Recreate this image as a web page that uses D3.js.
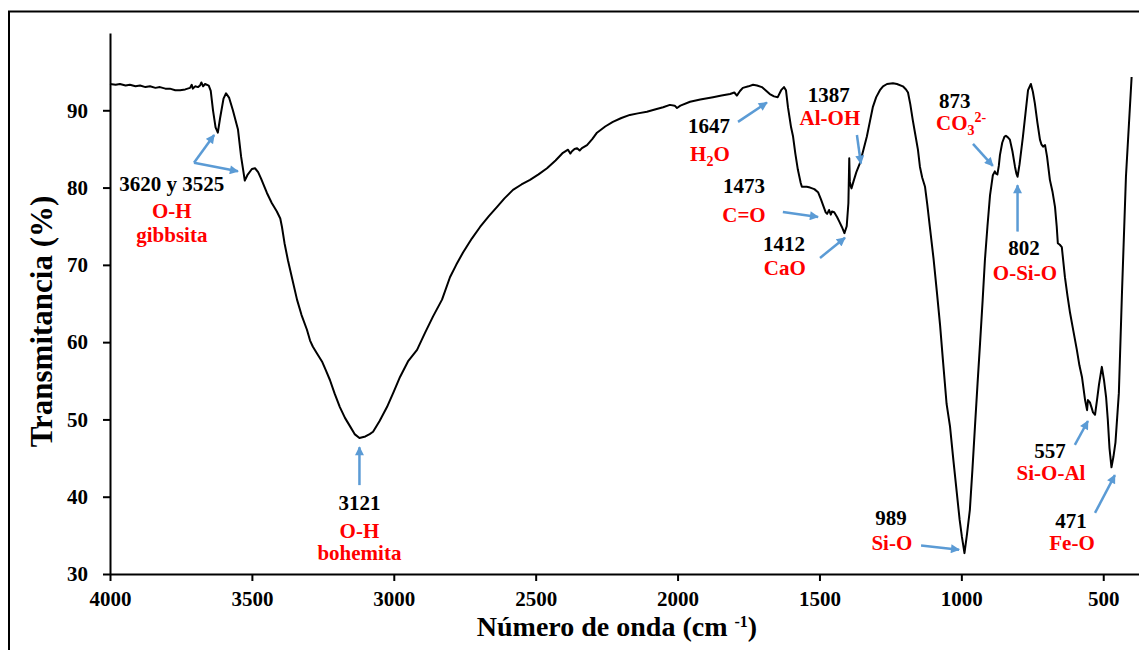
<!DOCTYPE html>
<html>
<head>
<meta charset="utf-8">
<script src="https://cdn.jsdelivr.net/npm/d3@7"></script>
<style>
  html, body { margin: 0; padding: 0; background: #fff; }
  svg { display: block; }
</style>
</head>
<body>
<svg id="chart" width="1139" height="650"></svg>
<script>
// FTIR spectrum: wavenumber (cm-1) and transmittance (%)
const wavenumber = [
  4000, 3980, 3965, 3945, 3930, 3910, 3894, 3875, 3859, 3840, 3824, 3805, 3789, 3770, 3753, 3735,
  3718, 3712, 3708, 3700, 3690, 3683, 3678, 3672, 3665, 3652, 3645, 3637, 3628, 3620, 3612, 3600,
  3591, 3580, 3567, 3549, 3538, 3525, 3516, 3500, 3489, 3478, 3468, 3447, 3430, 3412, 3400, 3394,
  3385, 3373, 3358, 3341, 3325, 3306, 3295, 3285, 3270, 3253, 3240, 3225, 3208, 3190, 3172, 3154,
  3138, 3121, 3100, 3085, 3073, 3050, 3024, 3000, 2978, 2950, 2918, 2890, 2862, 2830, 2802, 2780,
  2756, 2725, 2696, 2665, 2636, 2610, 2580, 2550, 2520, 2490, 2460, 2430, 2404, 2386, 2378, 2372,
  2363, 2354, 2345, 2337, 2319, 2300, 2284, 2255, 2228, 2198, 2168, 2140, 2108, 2080, 2051, 2027,
  2010, 2002, 1990, 1956, 1920, 1875, 1845, 1815, 1800, 1791, 1780, 1770, 1750, 1734, 1720, 1703,
  1690, 1675, 1660, 1647, 1635, 1625, 1618, 1611, 1600, 1593, 1585, 1576, 1566, 1562, 1545, 1533,
  1518, 1505, 1495, 1488, 1478, 1473, 1466, 1460, 1456, 1448, 1438, 1430, 1421, 1412, 1404, 1398,
  1395, 1393, 1390, 1387, 1380, 1370, 1357, 1345, 1333, 1322, 1312, 1300, 1287, 1276, 1262, 1241,
  1227, 1206, 1195, 1188, 1180, 1171, 1162, 1153, 1146, 1138, 1128, 1120, 1111, 1098, 1086, 1075,
  1065, 1052, 1040, 1028, 1016, 1006, 998, 989, 980, 970, 961, 952, 943, 934, 925, 917,
  908, 899, 889, 882, 878, 873, 868, 864, 856, 848, 843, 836, 829, 820, 811, 806,
  802, 795, 783, 774, 765, 755, 748, 741, 732, 723, 718, 712, 705, 698, 688, 679,
  670, 664, 660, 653, 646, 635, 626, 617, 605, 593, 584, 575, 564, 557, 554, 547,
  540, 536, 529, 522, 515, 505, 497, 490, 484, 478, 471, 464, 457, 445, 434, 420,
  400
];
const transmittance = [
  93.4, 93.3, 93.4, 93.2, 93.3, 93.1, 93.2, 93.0, 93.1, 92.9, 93.0, 92.8, 92.8, 92.6, 92.6, 92.7,
  92.9, 93.3, 92.8, 93.1, 93.0, 93.2, 93.6, 93.1, 93.4, 93.2, 92.5, 90.0, 87.8, 87.1, 89.0, 91.5,
  92.2, 91.6, 90.0, 87.5, 84.0, 80.9, 81.6, 82.4, 82.5, 82.0, 81.2, 79.3, 78.0, 76.9, 76.0, 74.9,
  72.8, 70.6, 68.2, 65.5, 63.5, 61.6, 60.2, 59.4, 58.5, 57.5, 56.4, 55.1, 53.3, 51.6, 50.2, 49.1,
  48.1, 47.6, 47.8, 48.1, 48.4, 49.8, 51.6, 53.6, 55.5, 57.5, 59.0, 61.2, 63.3, 65.5, 68.4, 70.0,
  71.6, 73.4, 74.9, 76.3, 77.5, 78.6, 79.7, 80.4, 81.0, 81.7, 82.5, 83.5, 84.5, 84.9, 84.4, 84.7,
  85.0, 85.1, 84.8, 85.1, 85.5, 86.3, 87.1, 87.9, 88.5, 89.0, 89.4, 89.6, 89.8, 90.1, 90.4, 90.7,
  90.6, 90.3, 90.6, 91.1, 91.4, 91.7, 91.9, 92.1, 92.3, 91.9, 92.5, 92.9, 93.1, 93.3, 93.2, 93.0,
  92.6, 92.1, 91.8, 91.7, 92.6, 93.0, 92.6, 90.4, 87.8, 86.6, 84.4, 82.3, 80.6, 80.1, 80.1, 80.0,
  79.8, 79.4, 78.5, 77.8, 76.8, 76.6, 77.1, 76.5, 76.9, 76.8, 76.2, 75.6, 74.9, 74.1, 75.0, 78.0,
  83.8, 80.8, 80.2, 79.9, 80.8, 82.0, 83.2, 84.9, 86.6, 88.6, 90.4, 91.7, 92.6, 93.1, 93.4, 93.5,
  93.4, 93.1, 92.7, 92.3, 90.8, 88.7, 86.8, 84.9, 82.7, 81.3, 80.1, 77.8, 74.9, 70.8, 66.4, 62.2,
  57.7, 52.0, 49.1, 44.7, 40.5, 37.0, 34.8, 32.7, 35.2, 38.3, 43.5, 49.1, 54.6, 59.9, 65.4, 70.6,
  75.0, 79.0, 81.6, 82.1, 81.8, 81.7, 82.8, 84.2, 85.8, 86.6, 86.7, 86.5, 86.2, 84.7, 82.7, 81.8,
  81.4, 83.0, 86.6, 89.6, 92.6, 93.4, 92.4, 90.9, 88.4, 86.2, 85.6, 85.3, 85.5, 84.0, 81.0, 79.5,
  77.5, 75.0, 72.8, 72.6, 72.3, 68.4, 66.0, 63.8, 61.4, 59.0, 57.0, 55.5, 52.5, 51.2, 52.5, 52.2,
  51.4, 50.9, 50.6, 52.5, 54.5, 56.8, 55.0, 52.9, 50.0, 46.3, 43.8, 45.2, 47.0, 53.4, 66.4, 81.4,
  94.3
];

// Axis ticks
const xTicks = [4000, 3500, 3000, 2500, 2000, 1500, 1000, 500];
const yTicks = [30, 40, 50, 60, 70, 80, 90];

// Band positions and assignments ("_" = subscript char, "^" = superscript rest)
const bandNumbers = ["3620 y 3525", "3121", "1647", "1473", "1412", "1387", "873", "802", "989", "557", "471"];
const bandAssignments = [
  ["O-H", "gibbsita"], ["O-H", "bohemita"], ["H_2O"], ["C=O"], ["CaO"], ["Al-OH"],
  ["CO_3^2-"], ["O-Si-O"], ["Si-O"], ["Si-O-Al"], ["Fe-O"]
];

// Annotation placement in data units [wavenumber, transmittance]
const annotationLayout = [
  { num: [3782, 79.6], lines: [[3782, 76.1], [3782, 73.0]],
    arrows: [[[3704, 83.2], [3633, 86.8]], [[3704, 83.2], [3549, 82.1]]] },
  { num: [3121, 38.3], lines: [[3121, 34.7], [3121, 31.8]],
    arrows: [[[3121, 41.5], [3121, 46.4]]] },
  { num: [1889, 87.1], lines: [[1886, 83.5]],
    arrows: [[[1787, 88.5], [1685, 91.0]]] },
  { num: [1766, 79.3], lines: [[1766, 75.6]],
    arrows: [[[1629, 76.85], [1505, 76.2]]] },
  { num: [1625, 71.8], lines: [[1622, 68.7]],
    arrows: [[[1498, 70.9], [1410, 73.5]]] },
  { num: [1467, 91.1], lines: [[1463, 88.1]],
    arrows: [[[1368, 86.8], [1354, 83.1]]] },
  { num: [1023, 90.3], lines: [[1001, 87.5]],
    arrows: [[[959, 85.65], [889, 82.8]]] },
  { num: [779, 71.3], lines: [[776, 68.0]],
    arrows: [[[802, 74.3], [802, 80.3]]] },
  { num: [1248, 36.3], lines: [[1245, 33.1]],
    arrows: [[[1142, 33.7], [1008, 33.15]]] },
  { num: [688, 45.0], lines: [[684, 42.1]],
    arrows: [[[600, 46.7], [554, 49.8]]] },
  { num: [614, 36.0], lines: [[610, 33.15]],
    arrows: [[[529, 37.9], [459, 42.8]]] }
];

const FONT = "'Liberation Serif', 'Times New Roman', Times, serif";
const ARROW = "#5b9bd5";

const svg = d3.select("#chart");

// Outer frame
svg.append("rect")
  .attr("x", 9).attr("y", 11.5)
  .attr("width", 1140).attr("height", 650)
  .attr("fill", "none").attr("stroke", "#000").attr("stroke-width", 2);

const x = d3.scaleLinear().domain([4000, 374]).range([110, 1139]);
const y = d3.scaleLinear().domain([30, 100]).range([574, 33]);

// Axes
const xAxis = d3.axisBottom(x).tickValues(xTicks).tickFormat(d3.format("d"))
  .tickSize(7).tickSizeOuter(0).tickPadding(10);
const yAxis = d3.axisLeft(y).tickValues(yTicks).tickFormat(d3.format("d"))
  .tickSize(7).tickSizeOuter(0).tickPadding(15);

const gx = svg.append("g").attr("transform", `translate(0,${y(30)})`).call(xAxis);
const gy = svg.append("g").attr("transform", `translate(${x(4000)},0)`).call(yAxis);

[gx, gy].forEach(g => {
  g.select(".domain").attr("stroke", "#000").attr("stroke-width", 2);
  g.selectAll(".tick line").attr("stroke", "#000").attr("stroke-width", 2);
  g.selectAll(".tick text")
    .attr("fill", "#000")
    .style("font-family", FONT)
    .style("font-weight", "bold")
    .style("font-size", "21px");
});

// Axis titles
const xTitle = svg.append("text")
  .attr("x", 617).attr("y", 636)
  .attr("text-anchor", "middle")
  .style("font-family", FONT).style("font-weight", "bold").style("font-size", "28px")
  .attr("fill", "#000");
xTitle.append("tspan").text("Número de onda (cm ");
xTitle.append("tspan").attr("dy", -9).style("font-size", "16px").text("-1");
xTitle.append("tspan").attr("dy", 9).text(")");

svg.append("text")
  .attr("transform", `translate(52,${(y(30) + y(100)) / 2 + 18}) rotate(-90)`)
  .attr("text-anchor", "middle")
  .style("font-family", FONT).style("font-weight", "bold").style("font-size", "31px")
  .attr("fill", "#000")
  .text("Transmitancia (%)");

// Spectrum
const spectrum = wavenumber.map((w, i) => [w, transmittance[i]]);
svg.append("path")
  .datum(spectrum)
  .attr("fill", "none")
  .attr("stroke", "#000")
  .attr("stroke-width", 2)
  .attr("stroke-linejoin", "round")
  .attr("d", d3.line().x(d => x(d[0])).y(d => y(d[1])));

// Arrow marker
svg.append("defs").append("marker")
  .attr("id", "head")
  .attr("viewBox", "0 0 10 10")
  .attr("refX", 9).attr("refY", 5)
  .attr("markerUnits", "userSpaceOnUse")
  .attr("markerWidth", 10).attr("markerHeight", 9)
  .attr("orient", "auto")
  .append("path").attr("d", "M0,0 L10,5 L0,10 z").attr("fill", ARROW);

// Rich text for chemical formulas: "_c" subscript one char, "^..." superscript
function richText(sel, str) {
  const parts = str.match(/_.|\^.+|[^_^]+/g);
  let shift = 0;
  parts.forEach(p => {
    if (p[0] === "_") {
      sel.append("tspan").attr("dy", 5 - shift).style("font-size", "14px").text(p.slice(1));
      shift = 5;
    } else if (p[0] === "^") {
      sel.append("tspan").attr("dy", -8 - shift).style("font-size", "14px").text(p.slice(1));
      shift = -8;
    } else {
      sel.append("tspan").attr("dy", -shift).text(p);
      shift = 0;
    }
  });
}

const ann = svg.append("g");
annotationLayout.forEach((a, i) => {
  a.arrows.forEach(([from, to]) => {
    ann.append("line")
      .attr("x1", x(from[0])).attr("y1", y(from[1]))
      .attr("x2", x(to[0])).attr("y2", y(to[1]))
      .attr("stroke", ARROW).attr("stroke-width", 2.5)
      .attr("marker-end", "url(#head)");
  });
  ann.append("text")
    .attr("x", x(a.num[0])).attr("y", y(a.num[1]))
    .attr("text-anchor", "middle")
    .style("font-family", FONT).style("font-weight", "bold").style("font-size", "21px")
    .attr("fill", "#000")
    .text(bandNumbers[i]);
  bandAssignments[i].forEach((label, j) => {
    const pos = a.lines[j];
    const t = ann.append("text")
      .attr("x", x(pos[0])).attr("y", y(pos[1]))
      .attr("text-anchor", "middle")
      .style("font-family", FONT).style("font-weight", "bold").style("font-size", "21px")
      .attr("fill", "#ff0000");
    richText(t, label);
  });
});
</script>
</body>
</html>
